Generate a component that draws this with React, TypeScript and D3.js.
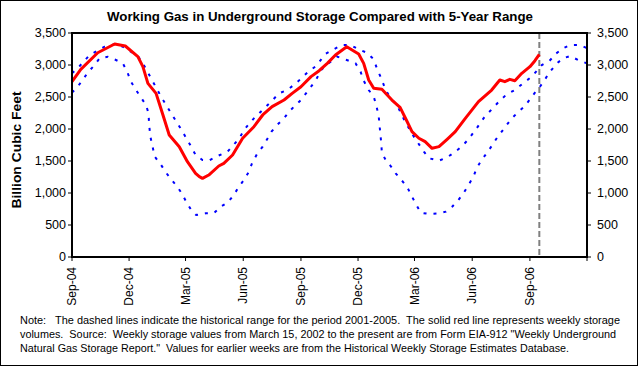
import React from "react";
import * as d3 from "d3";

// weekly working gas, Bcf
const STORAGE: [string, number][] = [
  ["2004-09-01", 2740], ["2004-09-15", 2932], ["2004-10-12", 3192], ["2004-11-08", 3328],
  ["2004-11-25", 3297], ["2004-12-15", 3130], ["2004-12-23", 2974], ["2004-12-31", 2713],
  ["2005-01-13", 2557], ["2005-01-24", 2219], ["2005-02-03", 1906], ["2005-02-19", 1724],
  ["2005-03-04", 1489], ["2005-03-17", 1307], ["2005-03-23", 1255], ["2005-03-28", 1229],
  ["2005-04-07", 1281], ["2005-04-23", 1422], ["2005-05-01", 1464], ["2005-05-15", 1594],
  ["2005-05-31", 1855], ["2005-06-18", 2036], ["2005-07-02", 2219], ["2005-07-17", 2349],
  ["2005-08-05", 2453], ["2005-08-18", 2557], ["2005-09-01", 2661], ["2005-09-17", 2818],
  ["2005-09-30", 2911], ["2005-10-13", 3026], ["2005-10-26", 3156], ["2005-11-13", 3286],
  ["2005-12-02", 3172], ["2005-12-10", 3026], ["2005-12-18", 2766], ["2005-12-26", 2636],
  ["2006-01-08", 2620], ["2006-01-24", 2453], ["2006-02-06", 2339], ["2006-02-16", 2141],
  ["2006-02-25", 1958], ["2006-03-08", 1855], ["2006-03-18", 1802], ["2006-03-29", 1698],
  ["2006-04-09", 1724], ["2006-04-22", 1839], ["2006-05-05", 1958], ["2006-05-21", 2167],
  ["2006-06-11", 2427], ["2006-07-02", 2609], ["2006-07-15", 2766], ["2006-07-23", 2739],
  ["2006-07-31", 2776], ["2006-08-08", 2755], ["2006-08-19", 2870], ["2006-09-01", 2974],
  ["2006-09-09", 3067], ["2006-09-16", 3165],
];

// 5-year (2001-2005) maximum
const RANGE_MAX: [string, number][] = [
  ["2004-09-01", 2870], ["2004-09-10", 2948], ["2004-09-29", 3156], ["2004-10-23", 3286],
  ["2004-11-10", 3328], ["2004-11-21", 3286], ["2004-12-15", 3140], ["2004-12-23", 3026],
  ["2005-01-08", 2739], ["2005-01-21", 2505], ["2005-02-06", 2245], ["2005-02-22", 1995],
  ["2005-03-10", 1724], ["2005-03-17", 1594], ["2005-03-28", 1516], ["2005-04-07", 1505],
  ["2005-04-21", 1578], ["2005-05-07", 1646], ["2005-05-15", 1734], ["2005-05-26", 1855],
  ["2005-06-02", 1984], ["2005-06-18", 2167], ["2005-06-29", 2271], ["2005-07-17", 2443],
  ["2005-07-28", 2557], ["2005-08-10", 2609], ["2005-08-24", 2714], ["2005-09-11", 2880],
  ["2005-09-25", 2984], ["2005-10-10", 3172], ["2005-10-23", 3245], ["2005-11-05", 3312],
  ["2005-11-19", 3312], ["2005-12-02", 3245], ["2005-12-15", 3192], ["2005-12-26", 3089],
  ["2005-12-31", 2948], ["2006-01-08", 2766], ["2006-01-14", 2609], ["2006-01-22", 2479],
  ["2006-02-01", 2375], ["2006-02-14", 2115], ["2006-02-28", 1880], ["2006-03-16", 1646],
  ["2006-03-24", 1542], ["2006-04-09", 1505], ["2006-04-22", 1558], ["2006-05-03", 1630],
  ["2006-05-15", 1724], ["2006-05-26", 1839], ["2006-06-08", 2010], ["2006-06-19", 2167],
  ["2006-06-27", 2255], ["2006-07-15", 2443], ["2006-07-26", 2542], ["2006-08-08", 2609],
  ["2006-08-21", 2714], ["2006-09-04", 2818], ["2006-09-20", 3000], ["2006-10-02", 3062],
  ["2006-10-13", 3182], ["2006-10-24", 3261], ["2006-11-04", 3312], ["2006-11-20", 3312],
  ["2006-12-01", 3261],
];

// 5-year (2001-2005) minimum
const RANGE_MIN: [string, number][] = [
  ["2004-09-01", 2568], ["2004-09-10", 2661], ["2004-09-18", 2766], ["2004-09-26", 2880],
  ["2004-10-07", 3000], ["2004-10-15", 3104], ["2004-10-28", 3130], ["2004-11-10", 3078],
  ["2004-11-21", 3026], ["2004-11-28", 2896], ["2004-12-04", 2739], ["2004-12-12", 2609],
  ["2004-12-19", 2505], ["2004-12-28", 2375], ["2005-01-01", 2245], ["2005-01-02", 2063],
  ["2005-01-04", 1880], ["2005-01-08", 1698], ["2005-01-11", 1567], ["2005-01-21", 1438],
  ["2005-01-29", 1317], ["2005-02-06", 1214], ["2005-02-15", 1109], ["2005-02-23", 995],
  ["2005-03-02", 864], ["2005-03-10", 734], ["2005-03-18", 656], ["2005-04-02", 683],
  ["2005-04-15", 683], ["2005-04-26", 786], ["2005-05-07", 849], ["2005-05-17", 969],
  ["2005-05-25", 1099], ["2005-06-02", 1203], ["2005-06-10", 1333], ["2005-06-15", 1464],
  ["2005-06-23", 1609], ["2005-07-02", 1724], ["2005-07-10", 1855], ["2005-07-16", 1958],
  ["2005-07-25", 2063], ["2005-08-05", 2167], ["2005-08-13", 2271], ["2005-08-21", 2349],
  ["2005-09-01", 2453], ["2005-09-17", 2661], ["2005-09-25", 2766], ["2005-10-03", 2922],
  ["2005-10-13", 3010], ["2005-10-29", 3130], ["2005-11-13", 3078], ["2005-11-27", 3026],
  ["2005-12-05", 2896], ["2005-12-10", 2755], ["2005-12-18", 2609], ["2005-12-26", 2505],
  ["2005-12-30", 2375], ["2006-01-03", 2193], ["2006-01-05", 1984], ["2006-01-07", 1776],
  ["2006-01-08", 1630], ["2006-01-14", 1516], ["2006-01-22", 1422], ["2006-01-30", 1307],
  ["2006-02-09", 1193], ["2006-02-17", 1099], ["2006-02-25", 943], ["2006-03-04", 813],
  ["2006-03-11", 692], ["2006-03-24", 672], ["2006-04-09", 683], ["2006-04-20", 708],
  ["2006-04-30", 786], ["2006-05-10", 891], ["2006-05-18", 995], ["2006-05-26", 1125],
  ["2006-06-03", 1255], ["2006-06-08", 1386], ["2006-06-16", 1516], ["2006-06-24", 1620],
  ["2006-07-02", 1734], ["2006-07-10", 1855], ["2006-07-18", 1958], ["2006-07-26", 2063],
  ["2006-08-03", 2167], ["2006-08-14", 2271], ["2006-08-24", 2359], ["2006-09-01", 2464],
  ["2006-09-09", 2568], ["2006-09-17", 2661], ["2006-09-25", 2776], ["2006-10-03", 2896],
  ["2006-10-14", 3026], ["2006-10-24", 3104], ["2006-11-04", 3140], ["2006-11-17", 3078],
  ["2006-12-01", 3026],
];

const X_TICKS = ["Sep-04", "Dec-04", "Mar-05", "Jun-05", "Sep-05", "Dec-05", "Mar-06", "Jun-06", "Sep-06", "Dec-06"];
const X_LABELS = ["Sep-04", "Dec-04", "Mar-05", "Jun-05", "Sep-05", "Dec-05", "Mar-06", "Jun-06", "Sep-06"];
const Y_TICKS = [0, 500, 1000, 1500, 2000, 2500, 3000, 3500];
const LATEST_WEEK = "2006-09-16";

const TITLE = "Working Gas in Underground Storage Compared with 5-Year Range";
const Y_TITLE = "Billion Cubic Feet";
const NOTE_LINES = [
  "Note:   The dashed lines indicate the historical range for the period 2001-2005.  The solid red line represents weekly storage",
  "volumes.  Source:  Weekly storage values from March 15, 2002 to the present are from Form EIA-912 \"Weekly Underground",
  "Natural Gas Storage Report.\"  Values for earlier weeks are from the Historical Weekly Storage Estimates Database.",
];
const NOTE_WIDTHS = [600, 596, 549];

const W = 638, H = 366;
const L = 72, R = 587, T = 33, B = 257;
const FONT = "Arial, 'Liberation Sans', sans-serif";

const parseDay = d3.timeParse("%Y-%m-%d");
const parseMon = d3.timeParse("%b-%y");

export default function App() {
  const x = d3.scaleTime()
    .domain([parseMon("Sep-04")!, parseMon("Dec-06")!])
    .range([L, R]);
  const y = d3.scaleLinear().domain([0, 3500]).range([B, T]);

  const line = d3.line<[string, number]>()
    .x(d => x(parseDay(d[0])!))
    .y(d => y(d[1]));

  const fmt = d3.format(",");
  const xLast = x(parseDay(LATEST_WEEK)!);

  return (
    <svg width={W} height={H} style={{ position: "absolute", left: 0, top: 0, background: "#fff" }}
      fontFamily={FONT}>
      <rect x={0.5} y={0.5} width={W - 1} height={H - 1} fill="#fff" stroke="#000" />

      <text x={320} y={21} textAnchor="middle" fontSize={13} fontWeight="bold"
        textLength={426} lengthAdjust="spacingAndGlyphs">{TITLE}</text>

      {/* range lines */}
      <path d={line(RANGE_MAX) || ""} fill="none" stroke="#0000ff" strokeWidth={2} strokeDasharray="3 7" />
      <path d={line(RANGE_MIN) || ""} fill="none" stroke="#0000ff" strokeWidth={2} strokeDasharray="3 7" />

      {/* latest week marker */}
      <line x1={xLast} x2={xLast} y1={T} y2={B} stroke="#808080" strokeWidth={2} strokeDasharray="6 3" />

      <path d={line(STORAGE) || ""} fill="none" stroke="#ff0000" strokeWidth={3} strokeLinejoin="round" />

      {/* plot frame */}
      <rect x={L} y={T} width={R - L} height={B - T} fill="none" stroke="#000" strokeWidth={2} />

      {/* y axes, both sides */}
      {Y_TICKS.map(v => (
        <g key={v}>
          <line x1={L - 4} x2={L} y1={y(v)} y2={y(v)} stroke="#000" />
          <text x={L - 6} y={y(v)} dy="0.35em" textAnchor="end" fontSize={12.5}>{fmt(v)}</text>
          <line x1={R} x2={R + 4} y1={y(v)} y2={y(v)} stroke="#000" />
          <text x={R + 10} y={y(v)} dy="0.35em" textAnchor="start" fontSize={12.5}>{fmt(v)}</text>
        </g>
      ))}
      <text transform={`translate(21,150) rotate(-90)`} textAnchor="middle" fontSize={13.5}
        fontWeight="bold" textLength={117} lengthAdjust="spacingAndGlyphs">{Y_TITLE}</text>

      {/* x axis */}
      {X_TICKS.map(t => (
        <line key={t} x1={x(parseMon(t)!)} x2={x(parseMon(t)!)} y1={B} y2={B + 4} stroke="#000" />
      ))}
      {X_LABELS.map(t => (
        <text key={t} transform={`translate(${x(parseMon(t)!)},${B + 10}) rotate(-90)`}
          textAnchor="end" dy="0.35em" fontSize={12}>{t}</text>
      ))}

      {NOTE_LINES.map((s, i) => (
        <text key={i} x={20} y={324 + i * 14} fontSize={11} style={{ whiteSpace: "pre" }}
          textLength={NOTE_WIDTHS[i]} lengthAdjust="spacingAndGlyphs">{s}</text>
      ))}
    </svg>
  );
}
